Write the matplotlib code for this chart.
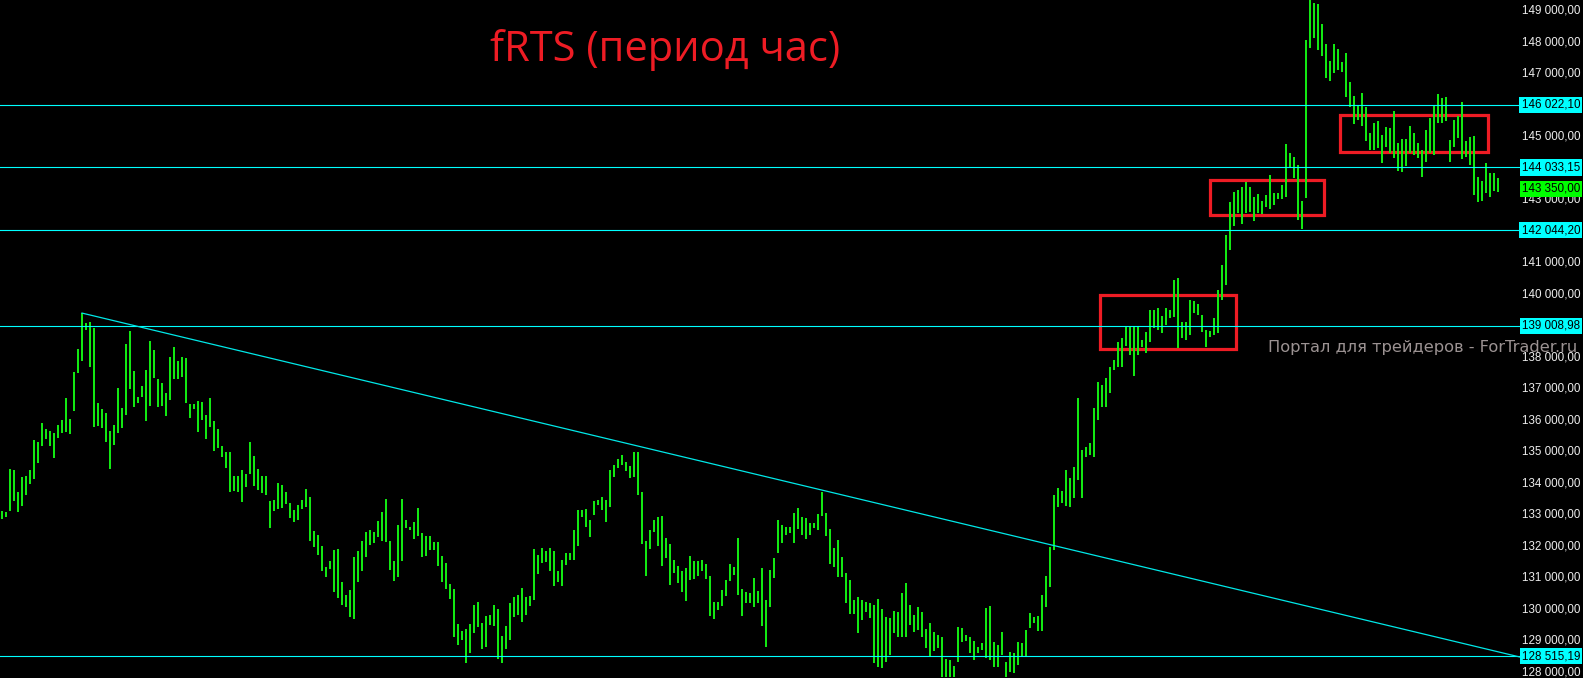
import numpy as np
import matplotlib
matplotlib.use("Agg")
import matplotlib.pyplot as plt
from matplotlib.patches import Rectangle
from matplotlib.transforms import blended_transform_factory

# hourly fRTS bars, prices in thousands (high / low per bar)
bar_high_k = [
    133.13, 133.10, 134.46, 134.43, 133.73, 134.21, 134.24, 134.43, 135.38, 135.32,
    135.92, 135.73, 135.67, 135.60, 135.86, 136.02, 136.72, 136.04, 137.54, 138.27,
    139.41, 139.09, 139.13, 138.94, 136.55, 136.36, 136.23, 135.67, 135.86, 137.04,
    136.40, 138.43, 138.84, 137.57, 136.75, 137.10, 137.60, 138.53, 138.24, 137.32,
    137.19, 136.87, 138.02, 138.34, 137.89, 138.02, 137.99, 136.52, 136.52, 136.62,
    136.59, 136.17, 136.72, 135.99, 135.73, 135.19, 135.00, 135.00, 134.24, 134.24,
    134.43, 134.30, 135.32, 134.87, 134.46, 134.24, 134.24, 133.45, 133.48, 134.01,
    133.95, 133.73, 133.38, 133.16, 133.32, 133.48, 133.82, 133.57, 132.49, 132.36,
    132.02, 131.35, 131.54, 131.89, 131.92, 130.88, 130.46, 130.62, 131.67, 131.86,
    132.18, 132.46, 132.52, 132.46, 132.81, 133.10, 133.51, 132.18, 131.54, 132.68,
    133.51, 132.84, 132.62, 132.78, 133.23, 132.43, 132.33, 132.33, 132.15, 132.15,
    131.70, 131.47, 130.81, 130.65, 129.54, 129.32, 129.38, 129.54, 130.14, 130.24,
    129.57, 129.79, 129.82, 130.14, 130.01, 129.16, 129.48, 130.20, 130.40, 130.46,
    130.68, 130.40, 130.43, 131.92, 131.73, 131.95, 131.86, 131.95, 131.86, 131.22,
    131.57, 131.79, 131.79, 132.52, 133.16, 133.16, 133.19, 132.84, 133.45, 133.48,
    133.57, 133.48, 134.43, 134.59, 134.78, 134.90, 134.68, 134.56, 135.00, 135.00,
    133.73, 132.18, 132.52, 132.84, 132.94, 132.97, 132.27, 132.08, 131.57, 131.38,
    131.22, 131.32, 131.70, 131.54, 131.54, 131.57, 131.44, 131.06, 130.24, 130.24,
    130.62, 130.94, 131.44, 131.35, 132.27, 130.65, 130.56, 130.52, 131.00, 130.59,
    131.32, 130.30, 131.25, 131.64, 132.84, 132.68, 132.62, 132.62, 133.06, 133.23,
    132.94, 132.91, 132.75, 132.75, 133.03, 133.73, 133.06, 132.55, 131.95, 132.21,
    131.67, 131.15, 130.94, 130.30, 130.40, 130.30, 130.24, 130.20, 130.14, 130.33,
    130.01, 129.76, 129.73, 129.95, 129.92, 130.52, 130.84, 130.14, 129.82, 130.08,
    129.92, 129.38, 129.57, 129.29, 129.19, 129.13, 128.43, 128.40, 128.21, 129.44,
    129.41, 129.19, 129.13, 129.00, 128.81, 128.94, 130.05, 130.11, 128.97, 128.87,
    129.29, 128.33, 128.65, 128.61, 128.97, 128.94, 129.35, 129.89, 129.76, 129.79,
    130.46, 131.06, 131.99, 133.63, 133.86, 133.76, 134.43, 134.18, 134.53, 136.72,
    135.06, 135.16, 135.29, 136.40, 137.22, 137.13, 137.35, 137.70, 137.92, 138.49,
    138.62, 139.00, 139.00, 139.00, 139.00, 138.56, 138.81, 139.51, 139.51, 139.57,
    139.32, 139.57, 139.51, 140.46, 140.52, 139.13, 139.13, 139.83, 139.80, 139.70,
    139.35, 138.87, 138.84, 139.26, 140.14, 140.94, 141.89, 142.94, 143.26, 143.32,
    143.41, 143.57, 143.41, 143.10, 143.19, 142.97, 143.16, 143.79, 143.22, 143.22,
    143.48, 144.78, 144.49, 144.37, 144.11, 142.97, 148.08, 149.50, 149.25, 149.22,
    148.59, 147.95, 147.41, 147.95, 147.79, 147.38, 147.67, 146.75, 146.30, 145.98,
    146.40, 145.95, 145.13, 145.44, 145.51, 145.06, 145.32, 145.29, 145.83, 144.81,
    144.94, 144.94, 145.35, 145.13, 144.81, 144.59, 145.22, 145.60, 145.98, 146.37,
    146.24, 146.27, 144.91, 145.54, 145.67, 146.11, 144.87, 145.00, 145.03, 143.73,
    143.60, 144.18, 143.86, 143.86, 143.70,
]
bar_low_k = [
    132.87, 132.94, 133.13, 133.45, 133.10, 133.29, 133.63, 133.98, 134.14, 134.65,
    135.19, 135.41, 135.19, 134.81, 135.45, 135.60, 135.64, 135.57, 136.30, 137.50,
    137.89, 138.87, 137.70, 135.80, 135.83, 135.77, 135.32, 134.46, 135.22, 135.60,
    135.77, 136.17, 137.00, 136.43, 136.55, 136.75, 135.99, 136.46, 137.35, 136.43,
    136.46, 136.14, 136.65, 137.32, 137.32, 137.38, 136.55, 136.08, 136.36, 135.64,
    136.02, 135.41, 135.80, 135.03, 135.13, 134.84, 134.50, 133.73, 133.76, 133.73,
    133.42, 133.89, 134.30, 133.92, 133.79, 133.69, 133.63, 132.59, 133.13, 133.19,
    133.23, 133.35, 132.91, 132.78, 132.84, 133.19, 133.26, 132.18, 131.99, 131.73,
    131.22, 131.03, 131.28, 130.56, 130.37, 130.14, 130.08, 129.76, 129.70, 130.88,
    131.22, 131.67, 132.05, 132.11, 132.30, 132.18, 132.15, 131.25, 130.91, 131.03,
    131.54, 132.59, 132.52, 132.24, 132.33, 131.67, 131.70, 131.89, 131.89, 131.38,
    130.88, 130.65, 130.33, 129.13, 128.87, 129.03, 128.30, 128.61, 129.25, 129.44,
    128.74, 128.81, 129.51, 129.48, 128.43, 128.30, 128.74, 129.03, 129.76, 129.82,
    129.60, 129.82, 130.11, 130.30, 131.12, 131.47, 131.51, 131.22, 130.75, 130.88,
    130.75, 131.41, 131.57, 131.57, 132.02, 132.94, 132.62, 132.30, 133.00, 133.32,
    133.16, 132.78, 133.26, 134.21, 134.50, 134.59, 134.40, 134.18, 134.21, 133.63,
    132.08, 131.06, 131.92, 132.46, 132.02, 131.38, 131.64, 130.78, 131.15, 130.84,
    130.56, 130.27, 130.94, 130.97, 131.06, 131.22, 130.97, 129.79, 129.70, 129.98,
    130.11, 130.43, 130.91, 131.09, 130.46, 129.79, 130.20, 130.20, 130.08, 130.20,
    129.48, 128.81, 130.08, 131.00, 131.79, 132.11, 132.36, 132.43, 132.11, 132.55,
    132.36, 132.24, 132.36, 132.59, 132.52, 132.97, 132.33, 131.44, 131.35, 131.03,
    131.03, 130.20, 129.86, 129.86, 129.25, 129.67, 129.92, 129.73, 128.30, 128.17,
    128.14, 128.33, 128.55, 129.25, 129.13, 129.13, 129.13, 129.51, 129.29, 129.35,
    129.13, 128.78, 128.49, 128.68, 128.78, 127.86, 127.86, 127.86, 127.86, 128.33,
    128.97, 129.00, 128.61, 128.40, 128.61, 128.71, 128.46, 128.40, 128.17, 128.17,
    128.55, 127.86, 128.02, 127.98, 128.24, 128.49, 128.49, 129.41, 129.57, 129.32,
    129.32, 130.08, 130.72, 131.89, 133.26, 133.38, 133.29, 133.26, 133.54, 134.11,
    133.54, 134.84, 134.90, 134.84, 136.02, 136.43, 136.43, 136.87, 137.60, 137.70,
    137.70, 138.37, 138.08, 137.41, 138.08, 138.34, 138.14, 138.49, 138.94, 138.87,
    138.78, 139.03, 139.26, 139.29, 138.30, 138.62, 138.56, 138.71, 139.41, 139.35,
    138.81, 138.34, 138.65, 138.71, 138.78, 139.83, 140.30, 141.41, 142.18, 142.59,
    142.24, 142.59, 142.62, 142.34, 142.59, 142.56, 142.78, 142.71, 142.84, 143.03,
    143.03, 143.10, 144.02, 143.70, 142.37, 142.08, 143.06, 147.83, 148.14, 147.76,
    147.57, 146.87, 146.78, 147.03, 147.13, 147.06, 146.27, 145.95, 145.41, 145.54,
    145.35, 144.87, 144.59, 144.59, 144.65, 144.18, 144.68, 144.49, 144.33, 143.92,
    143.89, 144.08, 144.49, 144.43, 144.33, 143.73, 144.21, 144.49, 144.43, 145.44,
    145.44, 145.51, 144.21, 144.68, 144.97, 144.30, 144.37, 144.11, 143.16, 142.94,
    142.97, 143.22, 143.10, 143.29, 143.26,
]

levels = [146022.10, 144033.15, 142044.20, 139008.98, 128515.19]
last_price = 143350.00

# trend line: (bar, price) at start and at the right edge of the chart
trend_start = (20, 139410)
trend_end = (379.5, 128490)

# rectangles: bar_from, bar_to, price_low, price_high
boxes = [
    (274.4, 308.4, 138270, 139970),
    (301.9, 330.4, 142520, 143650),
    (334.4, 371.4, 144510, 145710),
]

price_ticks = list(range(128000, 149001, 1000))

bar_high = np.array(bar_high_k) * 1000
bar_low = np.array(bar_low_k) * 1000
bars = np.arange(len(bar_high))


def fmt(v):
    return f"{v:,.2f}".replace(",", " ").replace(".", ",")


W, H = 1583, 678
fig = plt.figure(figsize=(W / 100, H / 100), dpi=100, facecolor="black")
ax = fig.add_axes([0, 0, 1520 / W, 1])
ax.set_facecolor("black")
ax.set_xlim(-0.5, 379.5)
ax.set_ylim(127825, 149349)
ax.axis("off")

ax.vlines(bars, bar_low, bar_high, colors="#12e812", linewidth=1.44)

for lv in levels:
    ax.axhline(lv, color="#00ffff", linewidth=0.8)

ax.plot([trend_start[0], trend_end[0]], [trend_start[1], trend_end[1]],
        color="#00e8e8", linewidth=0.9)

for x0, x1, p0, p1 in boxes:
    ax.add_patch(Rectangle((x0, p0), x1 - x0, p1 - p0, fill=False,
                           edgecolor="#ee1c24", linewidth=2.3))

# price scale on the right
tr = blended_transform_factory(fig.transFigure, ax.transData)
lab_x = 1580 / W
lab_font = dict(fontsize=8.4, family=["Liberation Sans", "DejaVu Sans"])
for v in price_ticks:
    if any(abs(v - lv) < 400 for lv in levels):
        continue
    ax.text(lab_x, v, fmt(v), transform=tr, ha="right", va="center",
            color="#ececec", clip_on=False, **lab_font)

for lv in levels:
    ax.text(lab_x, lv, fmt(lv), transform=tr, ha="right", va="center",
            color="black", clip_on=False, **lab_font,
            bbox=dict(boxstyle="square,pad=0.18", facecolor="#00ffff", edgecolor="none"))
ax.text(lab_x, last_price, fmt(last_price), transform=tr, ha="right", va="center",
        color="black", clip_on=False, **lab_font,
        bbox=dict(boxstyle="square,pad=0.18", facecolor="#00ff00", edgecolor="none"))

fig.text(490 / W, 1 - 50 / H, "fRTS (период час)", fontsize=30,
         family=["Open Sans", "DejaVu Sans"], color="#ee1c24", va="center", ha="left")
fig.text(1577 / W, 1 - 347 / H, "Портал для трейдеров - ForTrader.ru", fontsize=11.7,
         color="#9b9292", va="center", ha="right")

fig.savefig("out.png", dpi=100, facecolor="black")
